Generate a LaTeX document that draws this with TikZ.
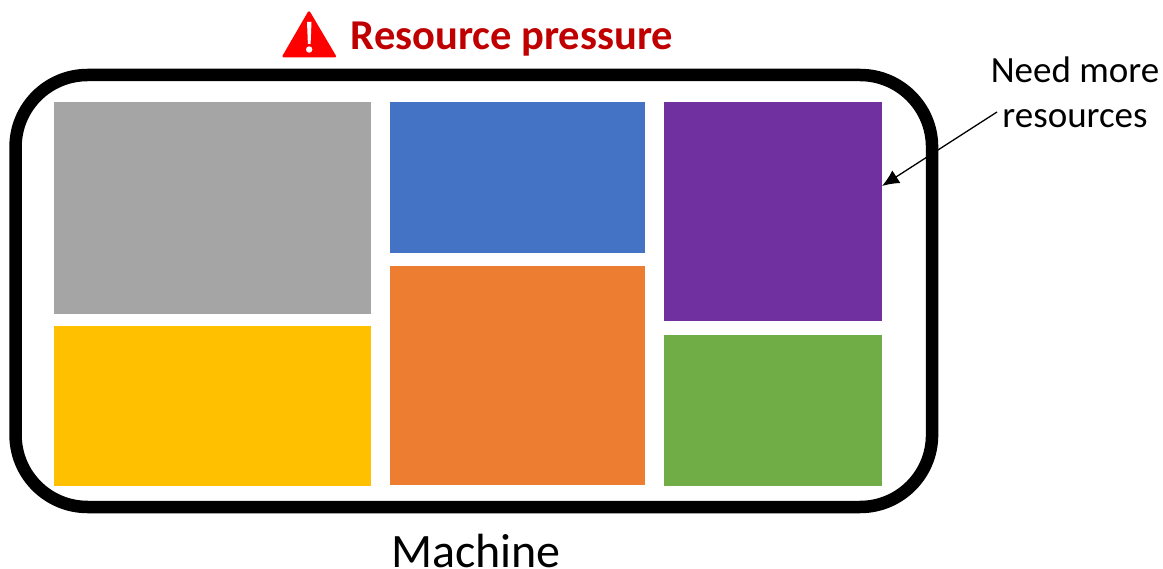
\documentclass[tikz,border=0pt]{standalone}
\usepackage{fontspec}
\setmainfont{Carlito}
\usetikzlibrary{arrows.meta}

\begin{document}
\begin{tikzpicture}[x=1pt,y=-1pt,
		block/.style={inner sep=0pt,outer sep=0pt}]
	\definecolor{color1}{HTML}{A5A5A5}
	\definecolor{color2}{HTML}{FFC000}
	\definecolor{color3}{HTML}{4472C4}
	\definecolor{color4}{HTML}{ED7D31}
	\definecolor{color5}{HTML}{7030A0}
	\definecolor{color6}{HTML}{70AD47}
	\definecolor{color7}{HTML}{C00000}
	\useasboundingbox (0,0) rectangle (1163,569);
	%% Machine ------
	\node[draw=black,line width=12.5pt,rounded corners=72pt,minimum width=916.5pt,minimum height=432pt,block] (machine) at (473.8,291) {};
	\node[font=\fontsize{48}{48}\selectfont,inner sep=0pt] (machinetext) at (476,551.5) {Machine};
	%% Blocks ------
	\node[fill=color1,minimum width=317pt,minimum height=212pt,block] (gray) at (212.5,208) {};
	\node[fill=color2,minimum width=317pt,minimum height=160pt,block] (yellow) at (212.5,406) {};
	\node[fill=color3,minimum width=255pt,minimum height=151pt,block] (blue) at (517.5,177.5) {};
	\node[fill=color4,minimum width=255pt,minimum height=219pt,block] (orange) at (517.5,375.5) {};
	\node[fill=color5,minimum width=218pt,minimum height=219pt,block] (purple) at (773,211.5) {};
	\node[fill=color6,minimum width=218pt,minimum height=151pt,block] (green) at (773,410.5) {};
	%% Warning ------
	\node[font=\fontsize{42.5}{42.5}\selectfont\bfseries,text=color7] (pressure) at (512,39) {Resource pressure};
	\fill[red,rounded corners=2.5pt] (309,10) -- (337,57.5) -- (281.5,57.5) -- cycle;
	\fill[white] (307,22) -- (311.5,22) -- (310.6,44) -- (307.9,44) -- cycle;
	\fill[white] (309.2,49.5) circle (3.2pt);
	%% Arrow ------
	\node[font=\fontsize{37}{45}\selectfont,align=center] (need) at (1075,92.5) {Need more\\resources};
	\coordinate (armstart) at (997,112);
	\coordinate (armend) at (882,186);
	\draw[line width=1.3pt,-{Latex[length=17pt,width=15pt]}] (armstart) -- (armend);
\end{tikzpicture}
\end{document}
